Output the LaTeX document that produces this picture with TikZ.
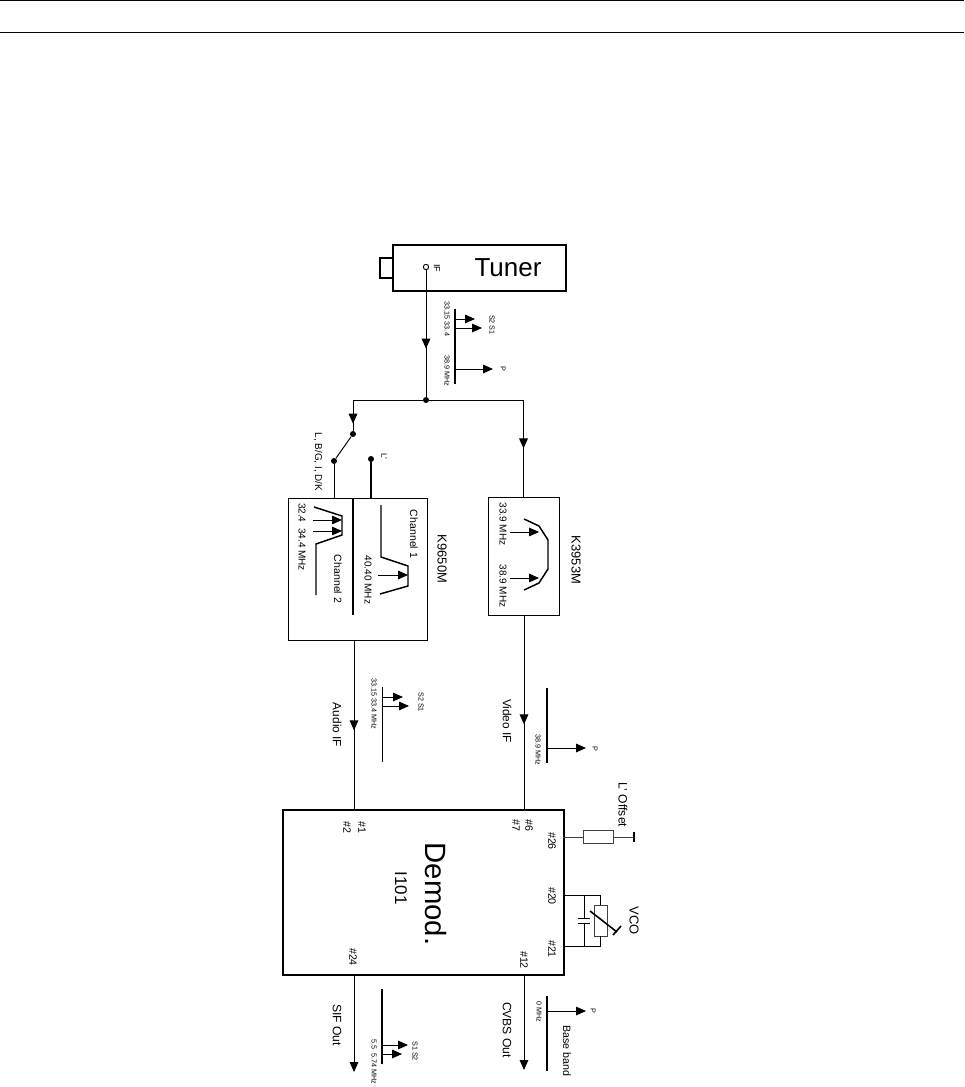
\documentclass[tikz,border=0pt]{standalone}
\usepackage{fontspec}
\setmainfont{Liberation Sans}
\usetikzlibrary{arrows.meta,calc,decorations.markings,fit}
\tikzset{
  wire/.style={line width=0.72pt},
  heavy/.style={line width=1.6pt},
  box/.style={draw,inner sep=0pt,line width=#1},
  dot/.style={circle,fill,inner sep=0pt,minimum size=4.5pt},
  lbl/.style={rotate=-90,inner sep=0pt,font=\fontsize{#1}{#1}\selectfont},
  head/.style={-{Triangle[length=7.5pt,width=6.5pt]}},
  tone/.style={wire,head},
  midhead/.style={postaction={decorate,decoration={markings,mark=at position #1 with {\arrow{Triangle[length=7.5pt,width=6.5pt]}}}}},
}

\begin{document}
\begin{tikzpicture}[x=0.75pt,y=-0.75pt]
  \useasboundingbox (0,0) rectangle (964,1087);
  \draw[line width=0.9pt] (0,0.7)--(964,0.7);
  \draw[line width=0.9pt] (0,32.5)--(964,32.5);

  % tuner
  \node[box=1.7pt,fit={(393,245) (566,291)}] (tuner){};
  \node[box=1.3pt,fit={(380,258) (393,278)}] (plug){};
  \node[circle,draw,wire,inner sep=0pt,minimum size=4pt] (ifpin) at (426,267){};
  \node[lbl=6.75pt] (iflbl) at (437,268){IF};
  \node[inner sep=0pt,font=\fontsize{19.5pt}{19.5pt}\selectfont] (tunerlbl) at (508,268){Tuner};
  \node[dot] (jct) at (426,400){};
  \draw[wire,midhead=0.62] (ifpin)--(jct);

  % switch
  \node[dot] (swa) at (353,434){};
  \node[dot] (swb) at (334,461){};
  \node[dot] (swc) at (371,459){};
  \node[lbl=7.4pt] (swblbl) at (318,462){L, B/G, I, D/K};
  \node[lbl=6pt] (swclbl) at (384,456){L'};

  % filter boxes
  \node[box=0.72pt,fit={(288,498) (427,640)}] (k9650){};
  \node[box=0.72pt,fit={(488,497) (559,615)}] (k3953){};
  \node[lbl=9.7pt] (k9650lbl) at (442,559){K9650M};
  \node[lbl=9.7pt] (k3953lbl) at (576,560){K3953M};
  \node[lbl=7.9pt] (ch1lbl) at (414,534){Channel 1};
  \node[lbl=7.9pt] (ch2lbl) at (338,579){Channel 2};
  \node[lbl=7.5pt] (f40lbl) at (368,580){40.40 MHz};
  \node[lbl=7.5pt] (f32lbl) at (302,537){32.4\ \ 34.4 MHz};
  \node[lbl=7.5pt] (f33lbl) at (503,524){33.9 MHz};
  \node[lbl=7.5pt] (f38lbl) at (503,586){38.9 MHz};
  \draw[wire,midhead=0.93] (jct) -| (swa);
  \draw[wire,midhead=0.748] (jct) -| (k3953.north);
  \draw[wire] (swa)--(swb);
  \draw[wire] (swb)--(swb|-k9650.north);
  \draw[heavy] (swc)--(swc|-k9650.north);
  \draw[heavy] (353,498)--(353,615);
  \draw[line width=1.1pt] (314,507)--(342,516)--(342,535)--(316,544)--(316,595);
  \draw[line width=1.1pt] (381,505)--(381,557)--(408,566)--(408,586)--(380,594);
  \draw[line width=1.1pt] (524,519)--(539,526)--(548,540)--(548,569)--(539,583)--(524,590);
  \foreach \n/\xa/\xb/\yy in {fa/313/342/520,fb/313/342/531,fc/378/408/575,fd/510/539/532,fe/510/539/578}{
    \coordinate (\n a) at (\xa,\yy);
    \coordinate (\n b) at (\xb,\yy);
    \draw[tone] (\n a)--(\n b);
  }

  % demodulator
  \node[box=2.1pt,fit={(283,810) (564,975)}] (demod){};
  \node[lbl=22pt] (demodlbl) at (435.5,894){Demod.};
  \node[lbl=12.7pt] (i101) at (401,888){I101};
  \coordinate (pin1) at (354,810);
  \coordinate (pin6) at (524,810);
  \coordinate (pin24) at (354,975);
  \coordinate (pin12) at (524,975);
  \coordinate (sifend) at (354,1072);
  \coordinate (cvbsend) at (524,1070);
  \draw[wire,midhead=0.53] (k9650.south-|pin1)--(pin1);
  \draw[wire,midhead=0.56] (k3953.south-|pin6)--(pin6);
  \draw[wire,head] (pin24)--(sifend);
  \draw[wire,head] (pin12)--(cvbsend);
  \node[lbl=8pt] (pa) at (362,827){\#1};
  \node[lbl=8pt] (pb) at (347,827){\#2};
  \node[lbl=8pt] (pc) at (529,825){\#6};
  \node[lbl=8pt] (pd) at (516,825){\#7};
  \node[lbl=8pt] (pe) at (552,841){\#26};
  \node[lbl=8pt] (pf) at (552,896){\#20};
  \node[lbl=8pt] (pg) at (552,949){\#21};
  \node[lbl=8pt] (ph) at (524,960){\#12};
  \node[lbl=8pt] (pj) at (353,957){\#24};

  % signal names
  \node[lbl=8.9pt] (audiolbl) at (337,725){Audio IF};
  \node[lbl=8.9pt] (videolbl) at (507,721){Video IF};
  \node[lbl=9.1pt] (siflbl) at (337,1025){SIF Out};
  \node[lbl=9.1pt] (cvbslbl) at (507,1030){CVBS Out};
  \node[lbl=8pt] (baselbl) at (567,1051){Base band};

  % spectra
  \draw[line width=1.2pt] (455,309)--(455,384);
  \draw[wire] (382,687)--(382,762);
  \draw[line width=1.4pt] (547,688)--(547,763);
  \draw[line width=1.4pt] (382,989)--(382,1064);
  \draw[line width=1.4pt] (547,996)--(547,1071);
  \foreach \n/\xa/\xb/\yy in {sa/455/475/319,sb/455/482/328,sc/455/493/369,sd/382/403/697,se/382/409/706,sf/547/586/748,sg/382/408/1045,sh/382/402/1054,si/547/586/1011}{
    \coordinate (\n a) at (\xa,\yy);
    \coordinate (\n b) at (\xb,\yy);
    \draw[tone] (\n a)--(\n b);
  }
  \node[lbl=5.4pt] (ta) at (447,319){33.15 33.4};
  \node[lbl=5.4pt] (tb) at (447,371){38.9 MHz};
  \node[lbl=5.4pt] (tc) at (492,325){S2 S1};
  \node[lbl=5.4pt] (td) at (503,369){P};
  \node[lbl=5.4pt] (te) at (374,704){33.15 33.4 MHz};
  \node[lbl=5.4pt] (tf) at (421,702){S2 S1};
  \node[lbl=5.4pt] (tg) at (538,750){38.9 MHz};
  \node[lbl=5.4pt] (th) at (595,749){P};
  \node[lbl=5.4pt] (ti) at (374,1062){5.5\ \ 5.74 MHz};
  \node[lbl=5.4pt] (tj) at (415,1051){S1 S2};
  \node[lbl=5.4pt] (tk) at (539,1012){0 MHz};
  \node[lbl=5.4pt] (tl) at (593,1011){P};

  % offset resistor
  \node[lbl=9.1pt] (offlbl) at (623,805){L' Offset};
  \node[draw,black!75,inner sep=0pt,wire,fit={(583,830) (613,843)}] (res){};
  \coordinate (pin26) at (563,837);
  \coordinate (gnd) at (634,837);
  \draw[wire,black!75] (pin26)--(res.west|-pin26);
  \draw[wire,black!75] (res.east|-gnd)--(gnd);
  \draw[line width=1.1pt] (634,832)--(634,842);

  % vco
  \node[lbl=9.7pt] (vcolbl) at (634,921){VCO};
  \node[draw,black!75,inner sep=0pt,wire,fit={(594,905) (607,936)}] (vard){};
  \coordinate (pin20) at (563,895);
  \coordinate (pin21) at (563,946);
  \coordinate (capa) at (584,918);
  \coordinate (capb) at (584,923);
  \draw[wire] (pin20) -| (vard.north);
  \draw[wire] (pin21) -| (vard.south);
  \draw[wire] (capa)--(capa|-pin20);
  \draw[wire] (capb)--(capb|-pin21);
  \draw[wire] (578,918)--(590,918) (578,923)--(590,923);
  \draw[line width=1.2pt] (590,911)--(617,932);
  \draw[line width=1.2pt] (621,926)--(613,935);
\end{tikzpicture}
\end{document}
